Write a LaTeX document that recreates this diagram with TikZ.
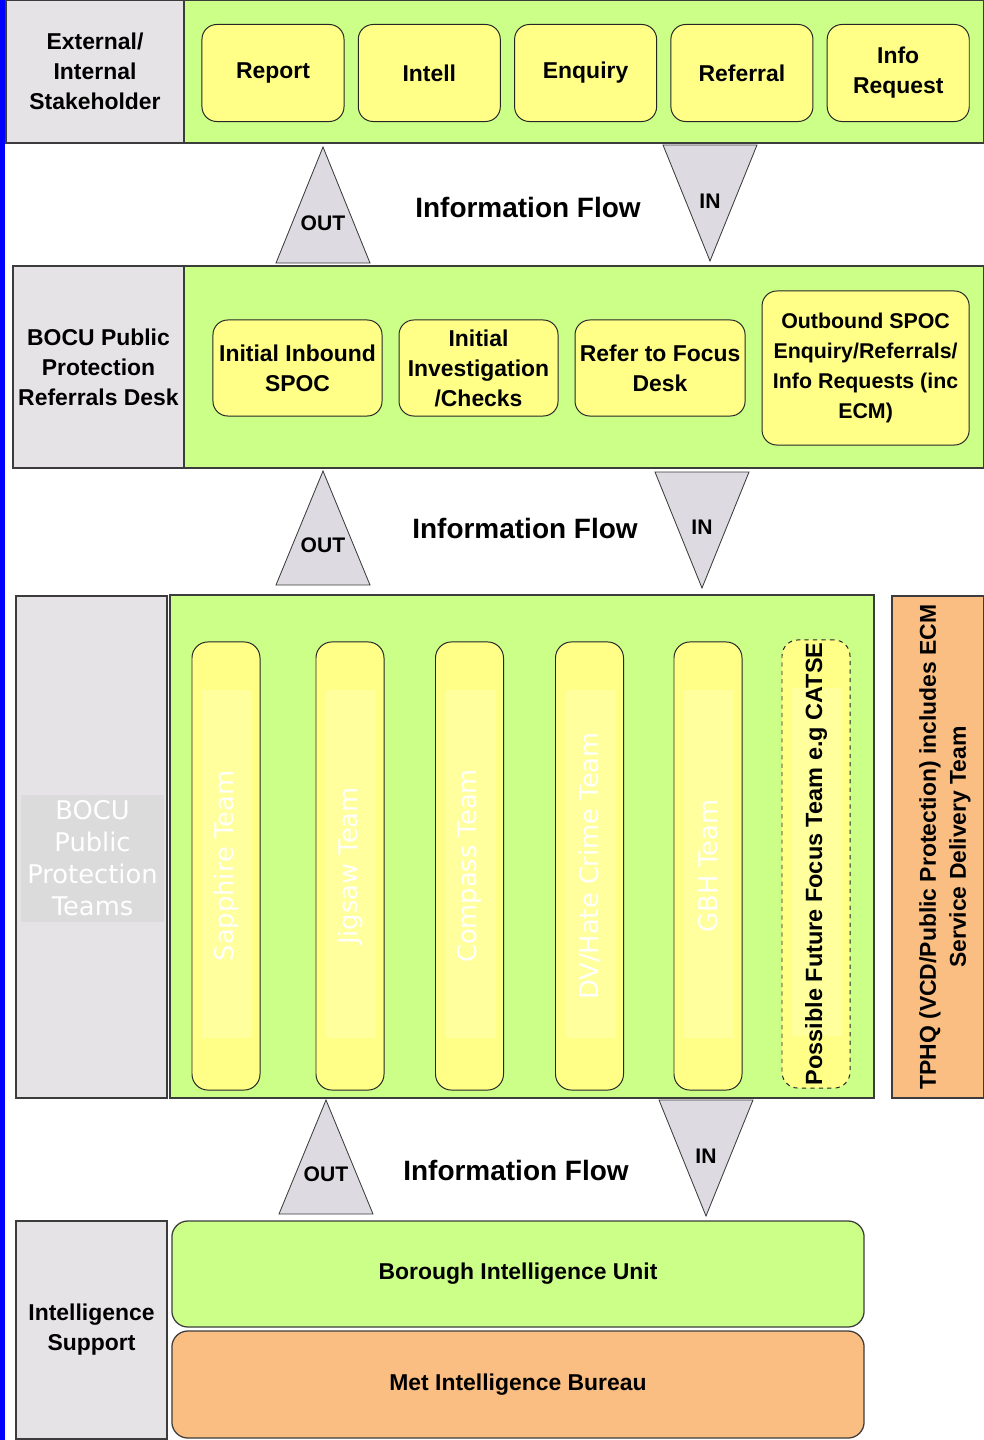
\documentclass[tikz,border=0pt]{standalone}
\usepackage{fontspec}
\setmainfont{Liberation Sans}
\newfontfamily\teamfont{DejaVu Sans}
\usepackage{tikz}
\usetikzlibrary{positioning,fit}

\definecolor{bandgreen}{RGB}{204,255,136}
\definecolor{boxyellow}{RGB}{255,255,136}
\definecolor{pillhi}{RGB}{255,255,158}
\definecolor{sidegrey}{RGB}{230,227,230}
\definecolor{teamgrey}{RGB}{220,219,220}
\definecolor{arrowgrey}{RGB}{221,219,225}
\definecolor{peach}{RGB}{250,190,130}
\definecolor{edgegrey}{RGB}{60,60,60}

\tikzstyle{txt}=[
    font=\bfseries\fontsize{16.3}{21.3}\selectfont,
    align=center
]
\tikzstyle{side}=[
    txt,
    rectangle,
    draw=edgegrey,
    line width=0.9pt,
    fill=sidegrey,
    inner sep=0pt
]
\tikzstyle{band}=[
    rectangle,
    draw=edgegrey,
    line width=0.9pt,
    fill=bandgreen,
    inner sep=0pt
]
\tikzstyle{ybox}=[
    txt,
    rectangle,
    rounded corners=0.37cm,
    draw=black!85,
    line width=0.7pt,
    fill=boxyellow,
    inner sep=0pt,
    minimum width=3.55cm,
    minimum height=2.425cm,
    node distance=0.332cm
]
\tikzstyle{unit}=[
    txt,
    rectangle,
    rounded corners=0.4cm,
    draw=edgegrey,
    line width=0.9pt,
    inner sep=0pt,
    minimum width=17.3cm
]
\tikzstyle{pill}=[
    rectangle,
    rounded corners=0.4cm,
    draw=black!85,
    line width=0.7pt,
    fill=boxyellow,
    inner sep=0pt,
    minimum width=1.7cm,
    minimum height=11.2cm,
    path picture={\fill[pillhi, sharp corners] ([xshift=0.25cm,yshift=-1.2cm]path picture bounding box.north west) rectangle ([xshift=-0.2cm,yshift=1.3cm]path picture bounding box.south east);}
]
\tikzstyle{teamtxt}=[
    rotate=90,
    text=white,
    font=\teamfont\fontsize{18.3}{22}\selectfont
]
\tikzstyle{tri}=[
    draw=edgegrey,
    line width=0.6pt,
    fill=arrowgrey
]
\tikzstyle{flowlbl}=[
    font=\bfseries\fontsize{15}{18}\selectfont
]
\tikzstyle{flowhead}=[
    font=\bfseries\fontsize{19.9}{24}\selectfont
]

\begin{document}
\begin{tikzpicture}[x=0.025cm, y=-0.025cm]
\useasboundingbox (0,0) rectangle (984,1440);
\fill[blue] (0,0) rectangle (5,1440);

\node[band, fit={(184,0) (984,143)}] (band1) {};
\node[side, minimum width=4.45cm, minimum height=3.575cm] (stake) at (95,71.5) {External/\\Internal\\Stakeholder};

\node[ybox] (report) at (273,73) {Report};
\node[ybox, right=of report] (intell) {Intell};
\node[ybox, right=of intell] (enquiry) {Enquiry};
\node[ybox, right=of enquiry] (referral) {Referral};
\node[ybox, right=of referral] (inforeq) {Info\\Request};

\node[band, fit={(184,266) (984,468)}] (band2) {};
\node[side, minimum width=4.275cm, minimum height=5.05cm] (desk) at (98.5,367) {BOCU Public\\Protection\\Referrals Desk};

\node[ybox, minimum width=4.225cm, minimum height=2.4cm] (inbound) at (297.5,368) {Initial Inbound\\SPOC};
\node[ybox, minimum width=3.975cm, minimum height=2.4cm, right=0.4cm of inbound] (checks) {Initial\\Investigation\\/Checks};
\node[ybox, minimum width=4.25cm, minimum height=2.4cm, right=0.4cm of checks] (focusdesk) {Refer to Focus\\Desk};
\node[ybox, minimum width=5.175cm, minimum height=3.85cm, right=0.4cm of focusdesk, font=\bfseries\fontsize{15.2}{21.3}\selectfont] (outbound) {Outbound SPOC\\Enquiry/Referrals/\\Info Requests (inc\\ECM)};

\node[side, fit={(16,596) (167,1098)}] (teams) {};
\node[fill=teamgrey, text=white, align=center, inner sep=0pt, minimum width=3.575cm, minimum height=3.175cm, font=\teamfont\fontsize{18.3}{22.7}\selectfont] (teamslbl) at (92.5,858.5) {BOCU\\Public\\Protection\\Teams};
\node[band, fit={(170,595) (874,1098)}] (band3) {};

\foreach \name/\cx/\lbl in {sapphire/226/Sapphire Team, jigsaw/350/Jigsaw Team, compass/469.5/Compass Team, dvhate/589.5/{DV/Hate Crime Team}, gbh/708/GBH Team} {
    \node[pill] (\name) at (\cx,866) {};
    \node[teamtxt] (\name-t) at (\name) {\lbl};
}
\node[pill, dashed] (future) at (816,864) {};
\node[txt, rotate=90, font=\bfseries\fontsize{16.7}{20}\selectfont] (future-t) at (future) {Possible Future Focus Team e.g CATSE};

\node[side, fill=peach, fit={(892,596) (984,1098)}] (tphq) {};
\node[txt, rotate=90] (tphq-t) at (945,847) {TPHQ (VCD/Public Protection) includes ECM\\Service Delivery Team};

\foreach \ot/\ob/\ox/\oy/\it/\ib/\ix/\iy/\fx/\fy [count=\n] in {147/263/323/223/145/261/710/201/528/207, 471/585/323/545/472/588/702/527/525/528, 1100/1214/326/1174/1100/1216/706/1156/516/1170} {
    \draw[tri] (\ox-47,\ob) -- (\ox,\ot) -- (\ox+47,\ob) -- cycle;
    \node[flowlbl] (out\n) at (\ox,\oy) {OUT};
    \draw[tri] (\ix-47,\it) -- (\ix,\ib) -- (\ix+47,\it) -- cycle;
    \node[flowlbl] (in\n) at (\ix,\iy) {IN};
    \node[flowhead] (flow\n) at (\fx,\fy) {Information Flow};
}

\node[side, minimum width=3.775cm, minimum height=5.45cm] (intel) at (91.5,1330) {Intelligence\\Support};
\node[unit, fill=bandgreen, minimum height=2.65cm] (biu) at (518,1274) {Borough Intelligence Unit};
\node[unit, fill=peach, minimum height=2.675cm] (mib) at (518,1384.5) {Met Intelligence Bureau};

\end{tikzpicture}
\end{document}
